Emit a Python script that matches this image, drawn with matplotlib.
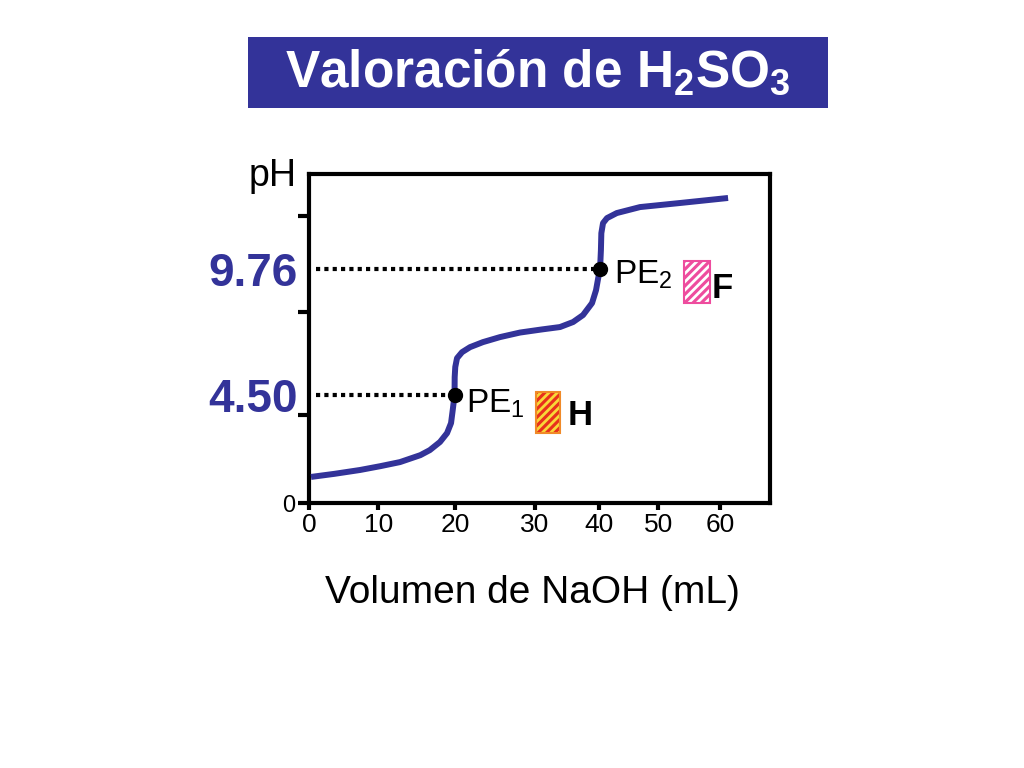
import matplotlib
matplotlib.use('Agg')
import matplotlib.pyplot as plt
from matplotlib.patches import Rectangle

# ----------------------------------------------------------------------------
# Data
vol_ml = [0.27, 3.5, 7.0, 9.8, 12.5, 15.3, 16.6, 18.0, 18.97, 19.52, 19.75,
          20.0, 20.02, 20.1, 20.34, 21.03, 22.13, 23.9, 26.25, 29.0, 32.0,
          34.5, 36.3, 37.66, 38.9, 39.45, 39.75, 40.0, 40.12, 40.18, 40.41,
          40.96, 42.3, 45.5, 51.0, 57.6]
ph = [1.09, 1.22, 1.38, 1.54, 1.71, 2.0, 2.21, 2.55, 2.92, 3.34, 3.88,
      4.50, 5.26, 5.68, 6.05, 6.30, 6.51, 6.72, 6.93, 7.12, 7.25,
      7.35, 7.56, 7.85, 8.35, 8.89, 9.40, 9.76, 10.56, 11.27, 11.69,
      11.90, 12.11, 12.36, 12.53, 12.74]

pe_vol = [20, 40]
pe_ph = [4.50, 9.76]
pe_names = ['PE$_{\\mathrm{1}}$', 'PE$_{\\mathrm{2}}$']

x_tick_pos = [0, 9.5, 20.1, 31.0, 39.9, 48.0, 56.5]
x_tick_labels = ['0', '10', '20', '30', '40', '50', '60']
y_tick_pos = [0, 3.67, 7.97, 12.0]
y_tick_labels = ['0', '', '', '']

blue = '#333399'
# ----------------------------------------------------------------------------
plt.rcParams['font.family'] = ['Liberation Sans', 'DejaVu Sans']
plt.rcParams['mathtext.fontset'] = 'custom'
plt.rcParams['mathtext.rm'] = 'Liberation Sans'
plt.rcParams['mathtext.bf'] = 'Liberation Sans:bold'
plt.rcParams['hatch.linewidth'] = 2.0

fig = plt.figure(figsize=(10.24, 7.68), dpi=100)

# Title box
fig.patches.append(Rectangle((0.2422, 0.8594), 0.5664, 0.0924, transform=fig.transFigure,
                             facecolor=blue, edgecolor='none'))
fig.text(0.525, 0.905, 'Valoración de H$_\\mathbf{2}$SO$_\\mathbf{3}$', color='white',
         fontsize=37, fontweight='bold', ha='center', va='center')

ax = fig.add_axes([0.3018, 0.345, 0.4502, 0.4284])

# Titration curve
ax.plot(vol_ml, ph, color=blue, lw=4.3, solid_capstyle='butt', solid_joinstyle='round', zorder=3)

# Equivalence points with dotted guides
for v, p in zip(pe_vol, pe_ph):
    ax.plot([0.96, v], [p, p], color='k', lw=3, linestyle=(0, (1, 1)), dash_capstyle='butt')
    ax.plot(v, p, 'o', color='k', markersize=10, zorder=4)

ax.text(21.6, 3.8, pe_names[0], fontsize=24, va='baseline', ha='left')
ax.text(41.9, 9.19, pe_names[1], fontsize=24, va='baseline', ha='left')

# Hatched colour swatches
def swatch(x0, y0, w, h, face, hatch_col, edge):
    ax.add_patch(Rectangle((x0, y0), w, h, facecolor=face, edgecolor='none', zorder=2))
    ax.add_patch(Rectangle((x0, y0), w, h, facecolor='none', edgecolor=hatch_col,
                           hatch='////', lw=0, zorder=2))
    ax.add_patch(Rectangle((x0, y0), w, h, fill=False, edgecolor=edge, lw=1.5, zorder=2))

swatch(31.2, 2.92, 3.3, 1.71, '#e8301c', '#f8d838', '#f08a28')
swatch(51.5, 8.35, 3.6, 1.75, '#ee4c9e', 'white', '#ee4c9e')

ax.text(35.5, 3.26, 'H', fontsize=25, fontweight='bold', va='baseline')
ax.text(55.4, 8.56, 'F', fontsize=25, fontweight='bold', va='baseline')

# Axes
ax.set_xlim(0, 63.37)
ax.set_ylim(0, 13.74)
for s in ax.spines.values():
    s.set_linewidth(3)

ax.set_xticks(x_tick_pos)
ax.set_xticklabels(x_tick_labels, fontsize=19)
ax.tick_params(axis='x', length=5, width=3, pad=2)
ax.set_yticks(y_tick_pos)
ax.set_yticklabels(y_tick_labels, fontsize=17)
ax.tick_params(axis='y', length=8, width=3, pad=2)

ax.set_yticks(pe_ph, minor=True)
ax.set_yticklabels(['%.2f' % p for p in pe_ph], minor=True, fontsize=33,
                   fontweight='bold', color=blue)
ax.tick_params(axis='y', which='minor', length=0, pad=8)

fig.text(0.2666, 0.771, 'pH', fontsize=27, ha='center', va='center')
fig.text(0.5195, 0.228, 'Volumen de NaOH (mL)', fontsize=28, ha='center', va='center')

plt.savefig('out.png', dpi=100)
